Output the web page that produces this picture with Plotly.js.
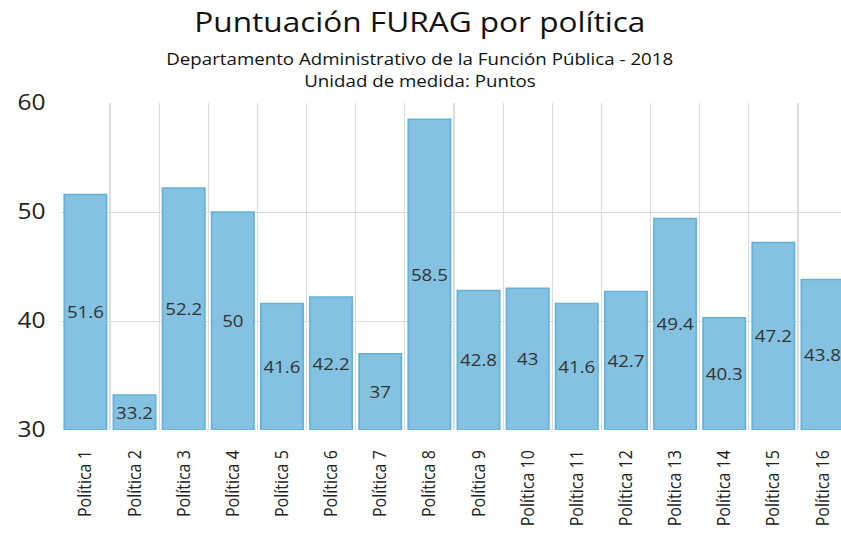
<!DOCTYPE html>
<html>
<head>
<meta charset="utf-8">
<script src="https://cdn.plot.ly/plotly-3.0.1.min.js"></script>
<style>
html,body{margin:0;padding:0;overflow:hidden;background:#fff;width:841px;height:533px;}
#chart{width:735px;height:533px;transform:scaleX(1.17);transform-origin:0 0;}
</style>
</head>
<body>
<div id="chart"></div>
<script>
const categories = ["Política 1","Política 2","Política 3","Política 4","Política 5","Política 6","Política 7","Política 8","Política 9","Política 10","Política 11","Política 12","Política 13","Política 14","Política 15","Política 16"];
const values = [51.6, 33.2, 52.2, 50, 41.6, 42.2, 37, 58.5, 42.8, 43, 41.6, 42.7, 49.4, 40.3, 47.2, 43.8];
const yTicks = [30, 40, 50, 60];
const axisBase = 30;
const titleText = "Puntuación FURAG por política";
const subtitle1 = "Departamento Administrativo de la Función Pública - 2018";
const subtitle2 = "Unidad de medida: Puntos";

const FONT = "Open Sans, Noto Sans, sans-serif";

const trace = {
  type: "bar",
  x: categories,
  base: axisBase,
  y: values.map(v => v - axisBase),
  text: values.map(v => String(v)),
  customdata: values,
  hovertemplate: "%{x}: %{customdata}<extra></extra>",
  textposition: "inside",
  insidetextanchor: "middle",
  textangle: 0,
  constraintext: "none",
  textfont: {family: FONT, size: 16, color: "#333333"},
  marker: {color: "rgb(133,194,225)", line: {color: "rgb(100,178,220)", width: 1.5}}
};

const W = 735, L = 61/1.17, R = W - 847.5/1.17;
const plotW = W - L - R, plotH = 327;
const cx = (420.5/1.17 - L) / plotW;

const layout = {
  width: W,
  height: 533,
  margin: {l: L, r: R, t: 103, b: 103, pad: 0},
  paper_bgcolor: "#ffffff",
  plot_bgcolor: "#ffffff",
  bargap: 0.14,
  showlegend: false,
  font: {family: FONT, color: "#222222"},
  xaxis: {
    type: "category",
    tickson: "boundaries",
    showgrid: true,
    gridcolor: "#dcdcdc",
    gridwidth: 1,
    ticks: "",
    tickangle: -90,
    tickfont: {family: FONT, size: 16, color: "#222222"},
    ticklabelstandoff: 16,
    showline: false,
    zeroline: false
  },
  yaxis: {
    range: [30, 60],
    tickvals: yTicks,
    ticktext: yTicks.map(String),
    showgrid: true,
    gridcolor: "#dcdcdc",
    gridwidth: 1,
    ticks: "",
    tickfont: {family: FONT, size: 21, color: "#222222"},
    ticklabelstandoff: 12,
    zeroline: false,
    showline: false
  },
  annotations: [
    {text: titleText, xref: "paper", yref: "paper", x: cx, y: (430-21)/plotH, xanchor: "center", yanchor: "middle", showarrow: false, font: {family: FONT, size: 27, color: "#111111"}},
    {text: subtitle1, xref: "paper", yref: "paper", x: cx, y: (430-59)/plotH, xanchor: "center", yanchor: "middle", showarrow: false, font: {family: FONT, size: 16, color: "#111111"}},
    {text: subtitle2, xref: "paper", yref: "paper", x: cx, y: (430-81)/plotH, xanchor: "center", yanchor: "middle", showarrow: false, font: {family: FONT, size: 16, color: "#111111"}}
  ]
};

Plotly.newPlot("chart", [trace], layout, {displayModeBar: false, staticPlot: true});
</script>
</body>
</html>
